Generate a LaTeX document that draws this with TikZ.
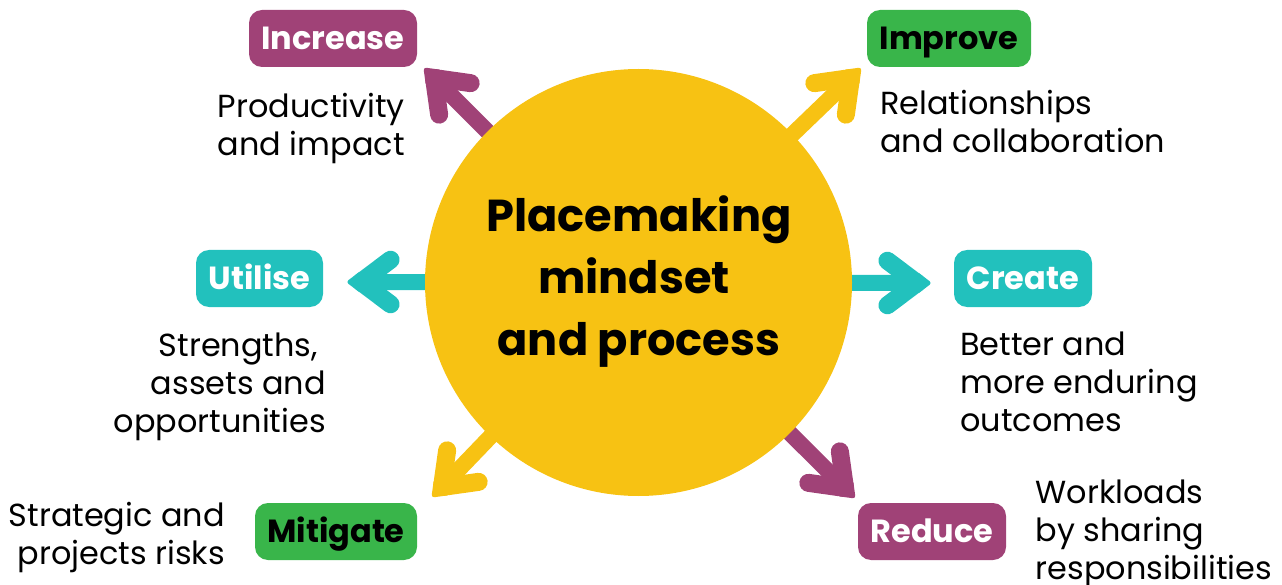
\documentclass[tikz,border=0pt]{standalone}
\usepackage{fontspec}
\setmainfont{Poppins}
\definecolor{cmag}{HTML}{A04277}
\definecolor{cgreen}{HTML}{39B54A}
\definecolor{cteal}{HTML}{22C1BD}
\definecolor{cyel}{HTML}{F7C213}
\newcommand{\arrowbarbs}[3]{%
  \draw[barbline,#3] (#1) ++(#2+180-37:37) -- (#1) -- ++(#2+180+37:37);
  \fill[#3,rounded corners=3pt] ($(#1)+(#2+90:11.4)$) -- ($(#1)+(#2:15)$) -- ($(#1)+(#2-90:11.4)$) -- cycle;}
\usetikzlibrary{calc}
\tikzset{
  badge/.style={rounded corners=13pt,inner sep=0pt,font=\fontsize{32}{32}\selectfont\bfseries,anchor=center,text height=26pt,text depth=4pt},
  body/.style={inner sep=0pt,font=\fontsize{31.9}{38}\selectfont},
  shaft/.style={line width=16pt},
  barbline/.style={line width=18pt,line cap=round,line join=round},
}
\begin{document}
\begin{tikzpicture}[x=1pt,y=-1pt]
\useasboundingbox (0,0) rectangle (1282,585);
\coordinate (hubc) at (638.5,282.5);
\coordinate (tInc) at (434,78);
\coordinate (tImp) at (851,78);
\coordinate (tUti) at (361,282);
\coordinate (tCre) at (917,283);
\coordinate (tMit) at (442,487);
\coordinate (tRed) at (845,488);
\draw[shaft,cmag] (hubc) -- (tInc);
\draw[shaft,cyel] (hubc) -- (tImp);
\draw[shaft,cteal] (hubc) -- (tUti);
\draw[shaft,cteal] (hubc) -- (tCre);
\draw[shaft,cyel] (hubc) -- (tMit);
\draw[shaft,cmag] (hubc) -- (tRed);
\arrowbarbs{tInc}{225}{cmag}
\arrowbarbs{tImp}{-45}{cyel}
\arrowbarbs{tUti}{180}{cteal}
\arrowbarbs{tCre}{0}{cteal}
\arrowbarbs{tMit}{135}{cyel}
\arrowbarbs{tRed}{45}{cmag}
\node[circle,fill=cyel,minimum size=427pt,inner sep=0pt] (hub) at (hubc) {};
\node[inner sep=0pt,align=center,font=\fontsize{44.7}{62}\selectfont\bfseries] (title) at (639,282) {Placemaking\\mindset\rule{10pt}{0pt}\\and process};
\node[badge,fill=cmag,text=white,minimum width=168pt,minimum height=57pt] (inc) at (333,38.5) {Increase};
\node[badge,fill=cgreen,text=black,minimum width=164pt,minimum height=57pt] (imp) at (949,38.5) {Improve};
\node[badge,fill=cteal,text=white,minimum width=127pt,minimum height=57pt] (uti) at (259.5,278.5) {Utilise};
\node[badge,fill=cteal,text=white,minimum width=138pt,minimum height=57pt] (cre) at (1023,278.5) {Create};
\node[badge,fill=cgreen,text=black,minimum width=162pt,minimum height=57pt] (mit) at (336,531.5) {Mitigate};
\node[badge,fill=cmag,text=white,minimum width=148pt,minimum height=57pt] (red) at (932,531.5) {Reduce};
\node[body,align=right,anchor=north east] (tinc) at (405,93) {Productivity\\and impact};
\node[body,align=left,anchor=north west] (timp) at (880,90) {Relationships\\and collaboration};
\node[body,align=right,anchor=north east] (tuti) at (326,333) {Strengths,\rule{8pt}{0pt}\\assets and\\opportunities};
\node[body,align=left,anchor=north west] (tcre) at (960,332) {Better and\\more enduring\\outcomes};
\node[body,align=right,anchor=north east] (tmit) at (225,502) {Strategic and\\projects risks};
\node[body,align=left,anchor=north west] (tred) at (1035.5,479.5) {Workloads\\by sharing\\responsibilities};
\end{tikzpicture}
\end{document}
